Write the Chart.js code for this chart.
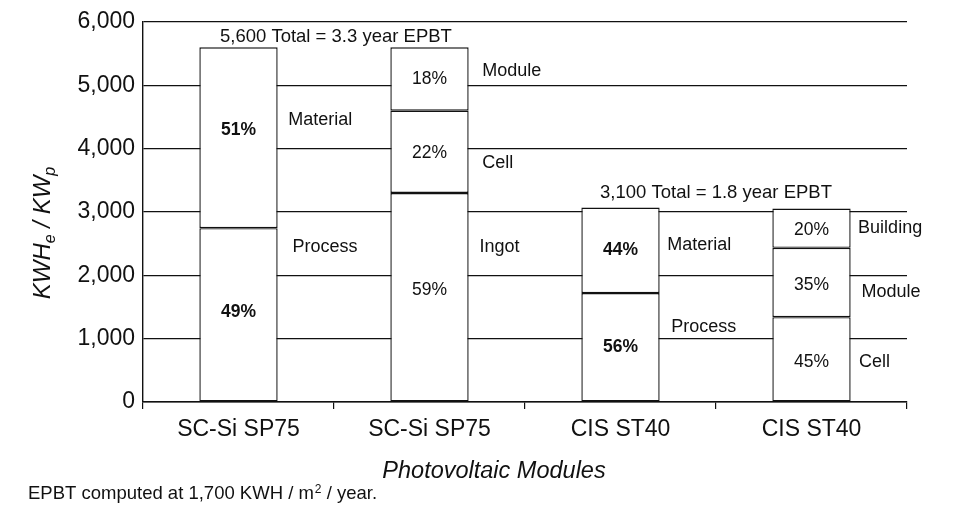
<!DOCTYPE html>
<html><head><meta charset="utf-8">
<script src="https://cdn.jsdelivr.net/npm/chart.js@4.4.1/dist/chart.umd.min.js"></script>
<style>html,body{margin:0;padding:0;background:#fff}#wrap{width:957px;height:506px;position:relative}canvas{display:block}</style>
</head><body><div id="wrap"><canvas id="c" width="957" height="506" style="width:957px;height:506px"></canvas></div>
<script>
// ---- data ----
const categories = ['SC-Si SP75', 'SC-Si SP75', 'CIS ST40', 'CIS ST40'];
const yTickValues = [0, 1000, 2000, 3000, 4000, 5000, 6000];
const bottomSegment = [2744, 3300, 1720, 1340];   // Process / Ingot / Process / Cell
const middleSegment = [2856, 1300, 1350, 1095];   // Material / Cell / Material / Module
const topSegment = [null, 1000, null, 620];       // - / Module / - / Building
const segmentPercents = [['49%', '51%', null], ['59%', '22%', '18%'], ['56%', '44%', null], ['45%', '35%', '20%']];
const sideLabels = ['Material', 'Process', 'Module', 'Cell', 'Ingot', 'Material', 'Process', 'Building', 'Module', 'Cell'];
const totalNotes = ['5,600 Total = 3.3 year EPBT', '3,100 Total = 1.8 year EPBT'];

// ---- annotation anchors (data space: category index, value) ----
const boldBars = [true, false, true, false];
const percentAnchorY = [[1425, 4290, null], [1760, 3930, 5090], [870, 2400, null], [630, 1850, 2710]];
const sideAnchors = [[0.26, 4460], [0.283, 2450], [1.276, 5220], [1.276, 3770], [1.262, 2450],
                     [2.245, 2480], [2.266, 1190], [3.244, 2750], [3.262, 1740], [3.249, 630]];
const noteAnchors = [[0.51, 5770], [2.5, 3295]];

const FONT = '"Liberation Sans", Arial, Helvetica, sans-serif';
const INK = '#111';

const textPlugin = {
  id: 'texts',
  afterDraw(chart) {
    const ctx = chart.ctx, xs = chart.scales.x, ys = chart.scales.y;
    ctx.save();
    ctx.fillStyle = INK;
    ctx.textBaseline = 'middle';
    ctx.textAlign = 'center';
    segmentPercents.forEach((arr, i) => {
      arr.forEach((t, j) => {
        if (!t) return;
        ctx.font = (boldBars[i] ? 'bold ' : '') + '17.5px ' + FONT;
        ctx.fillText(t, xs.getPixelForValue(i), ys.getPixelForValue(percentAnchorY[i][j]));
      });
    });
    ctx.textAlign = 'left';
    ctx.font = '18px ' + FONT;
    sideLabels.forEach((t, k) => {
      ctx.fillText(t, xs.getPixelForValue(sideAnchors[k][0]), ys.getPixelForValue(sideAnchors[k][1]));
    });
    ctx.textAlign = 'center';
    ctx.font = '18.5px ' + FONT;
    totalNotes.forEach((t, k) => {
      ctx.fillText(t, xs.getPixelForValue(noteAnchors[k][0]), ys.getPixelForValue(noteAnchors[k][1]));
    });
    ctx.textBaseline = 'alphabetic';
    ctx.font = 'italic 23.5px ' + FONT;
    ctx.fillText('Photovoltaic Modules', 494, 478);
    ctx.textAlign = 'left';
    ctx.font = '18.5px ' + FONT;
    let x = 28; const by = 499;
    const p1 = 'EPBT computed at 1,700 KWH / m';
    ctx.fillText(p1, x, by); x += ctx.measureText(p1).width;
    ctx.font = '12px ' + FONT;
    ctx.fillText('2', x + 1, by - 6); x += ctx.measureText('2').width + 1;
    ctx.font = '18.5px ' + FONT;
    ctx.fillText(' / year.', x, by);
    ctx.translate(50, 233);
    ctx.rotate(-Math.PI / 2);
    const parts = [['KWH', 24, 0], ['e', 16, 5], [' / KW', 24, 0], ['p', 16, 5]];
    let total = 0;
    parts.forEach(p => { ctx.font = 'italic ' + p[1] + 'px ' + FONT; total += ctx.measureText(p[0]).width; });
    let px = -total / 2;
    parts.forEach(p => {
      ctx.font = 'italic ' + p[1] + 'px ' + FONT;
      ctx.fillText(p[0], px, p[2]);
      px += ctx.measureText(p[0]).width;
    });
    ctx.restore();
  }
};

const barStyle = {
  backgroundColor: '#ffffff',
  borderColor: INK,
  borderWidth: 1.4,
  borderSkipped: false,
  barPercentage: 0.41,
  categoryPercentage: 1.0
};

new Chart(document.getElementById('c'), {
  type: 'bar',
  data: {
    labels: categories,
    datasets: [
      Object.assign({ label: 'bottom', data: bottomSegment }, barStyle),
      Object.assign({ label: 'middle', data: middleSegment }, barStyle),
      Object.assign({ label: 'top', data: topSegment }, barStyle)
    ]
  },
  options: {
    responsive: false,
    maintainAspectRatio: false,
    animation: false,
    devicePixelRatio: 1,
    layout: { padding: { top: 22, right: 50, left: 0, bottom: 0 } },
    plugins: { legend: { display: false }, tooltip: { enabled: false } },
    scales: {
      x: {
        stacked: true,
        afterFit: s => { s.height = 104; },
        grid: { drawOnChartArea: false, drawTicks: true, tickLength: 7, color: INK, lineWidth: 1.2, offset: true },
        border: { display: true, color: INK, width: 1.4 },
        ticks: { color: INK, font: { family: FONT, size: 23 }, padding: 7, maxRotation: 0, minRotation: 0, autoSkip: false }
      },
      y: {
        stacked: true,
        min: 0, max: 6000,
        afterFit: s => { s.width = 143; },
        afterBuildTicks: s => { s.ticks = yTickValues.map(v => ({ value: v })); },
        grid: { color: INK, lineWidth: 1.2, drawTicks: false },
        border: { display: true, color: INK, width: 1.4 },
        ticks: {
          color: INK, padding: 8,
          font: { family: FONT, size: 23 },
          callback: v => v.toLocaleString('en-US')
        }
      }
    }
  },
  plugins: [textPlugin]
});
</script>
</body></html>
